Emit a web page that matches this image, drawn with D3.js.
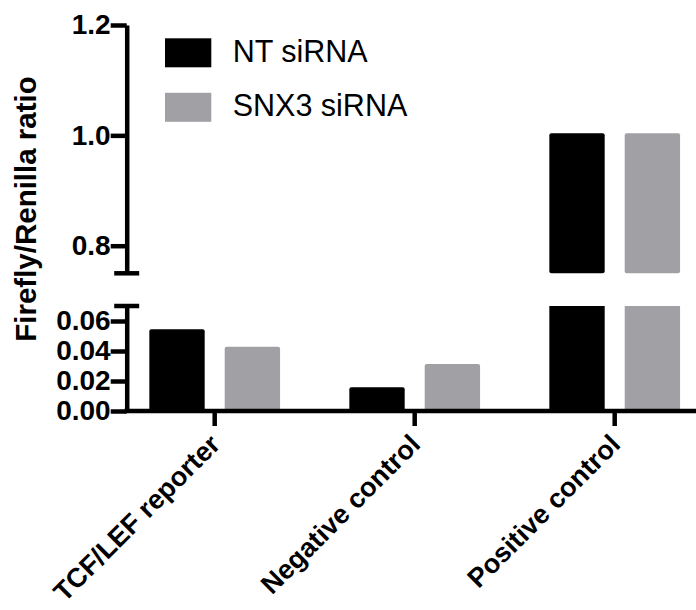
<!DOCTYPE html>
<html>
<head>
<meta charset="utf-8">
<script src="https://cdn.jsdelivr.net/npm/d3@7"></script>
<style>
  body { margin: 0; background: #fff; }
  text { font-family: "Liberation Sans", Arial, sans-serif; }
</style>
</head>
<body>
<script>
// data
var categories = ["TCF/LEF reporter", "Negative control", "Positive control"];
var seriesNames = ["NT siRNA", "SNX3 siRNA"];
var ntValues = [0.0545, 0.0158, 1.0];
var snx3Values = [0.0429, 0.0313, 1.0];
var upperTicks = [0.8, 1.0, 1.2];
var lowerTicks = [0.00, 0.02, 0.04, 0.06];

var colors = ["#000000", "#a1a0a5"];

var w = 696;
var h = 610;
var axisX = 126.7;
var sw = 4.5;

// broken y axis: two segments
var upperDomain = [0.75, 1.2];
var lowerDomain = [0, 0.07];
var yUpper = d3.scaleLinear().domain(upperDomain).range([273.3, 25]);
var yLower = d3.scaleLinear().domain(lowerDomain).range([411, 306]);

var x0 = d3.scaleBand()
    .domain(categories)
    .range([114.7, 714.7])
    .padding(0);

var x1 = d3.scaleBand()
    .domain(seriesNames)
    .range([0, x0.bandwidth()])
    .paddingInner(0.2656)
    .paddingOuter(0.4595);

var svg = d3.select("body")
    .append("svg")
    .attr("width", w)
    .attr("height", h);

// flatten for bars
var rows = [];
categories.forEach(function (c, i) {
    rows.push({cat: c, s: seriesNames[0], v: ntValues[i], color: colors[0]});
    rows.push({cat: c, s: seriesNames[1], v: snx3Values[i], color: colors[1]});
});

// lower segment bars (clipped at top of segment)
svg.append("g").selectAll("rect")
    .data(rows)
    .enter()
    .append("rect")
    .attr("x", d => x0(d.cat) + x1(d.s))
    .attr("width", x1.bandwidth())
    .attr("y", d => yLower(Math.min(d.v, lowerDomain[1])))
    .attr("height", d => yLower(0) - yLower(Math.min(d.v, lowerDomain[1])))
    .attr("rx", d => d.v > lowerDomain[1] ? 0 : 2)
    .attr("fill", d => d.color);

// upper segment bars
svg.append("g").selectAll("rect")
    .data(rows.filter(d => d.v > upperDomain[0]))
    .enter()
    .append("rect")
    .attr("x", d => x0(d.cat) + x1(d.s))
    .attr("width", x1.bandwidth())
    .attr("y", d => yUpper(d.v) - 2)
    .attr("height", d => yUpper(upperDomain[0]) - yUpper(d.v) + 2)
    .attr("rx", 2)
    .attr("fill", d => d.color);

// y axes
function styleAxis(g) {
    g.selectAll("path, line")
        .attr("stroke", "#000")
        .attr("stroke-width", sw);
    g.selectAll("text")
        .attr("font-family", "Liberation Sans, Arial, sans-serif")
        .attr("font-weight", "bold")
        .attr("font-size", 28)
        .attr("fill", "#000");
}

svg.append("g")
    .attr("transform", "translate(" + axisX + ",0)")
    .call(d3.axisLeft(yUpper).tickValues(upperTicks).tickFormat(d3.format(".1f"))
        .tickSize(16).tickSizeOuter(0).tickPadding(0))
    .call(styleAxis);

svg.append("g")
    .attr("transform", "translate(" + axisX + ",0)")
    .call(d3.axisLeft(yLower).tickValues(lowerTicks).tickFormat(d3.format(".2f"))
        .tickSize(16).tickSizeOuter(0).tickPadding(0))
    .call(styleAxis);

// break caps
[yUpper(upperDomain[0]), yLower(lowerDomain[1])].forEach(function (yy) {
    svg.append("line")
        .attr("x1", axisX - 12.5)
        .attr("x2", axisX + 12.5)
        .attr("y1", yy)
        .attr("y2", yy)
        .attr("stroke", "#000")
        .attr("stroke-width", sw);
});

// x axis
var xAxis = svg.append("g")
    .attr("transform", "translate(0," + yLower(0) + ")")
    .call(d3.axisBottom(x0).tickSize(15).tickSizeOuter(0));
xAxis.select(".domain").remove();
xAxis.selectAll("line")
    .attr("stroke", "#000")
    .attr("stroke-width", sw);
xAxis.selectAll("text")
    .attr("y", 0)
    .attr("dy", 0)
    .attr("text-anchor", "end")
    .attr("transform", "translate(7,35) rotate(-45)")
    .attr("font-family", "Liberation Sans, Arial, sans-serif")
    .attr("font-weight", "bold")
    .attr("font-size", 27)
    .attr("fill", "#000");

svg.append("line")
    .attr("x1", axisX - sw / 2)
    .attr("x2", w + 5)
    .attr("y1", yLower(0))
    .attr("y2", yLower(0))
    .attr("stroke", "#000")
    .attr("stroke-width", sw);

// y title
svg.append("text")
    .attr("transform", "translate(36,209) rotate(-90)")
    .attr("text-anchor", "middle")
    .attr("font-weight", "bold")
    .attr("font-size", 29.5)
    .text("Firefly/Renilla ratio");

// legend
var legend = svg.append("g").selectAll("g")
    .data(seriesNames)
    .enter()
    .append("g")
    .attr("transform", (d, i) => "translate(165," + (38.3 + i * 54.5) + ")");

legend.append("rect")
    .attr("width", 46.3)
    .attr("height", 29)
    .attr("fill", (d, i) => colors[i]);

legend.append("text")
    .attr("x", 67.7)
    .attr("y", 23.5)
    .attr("font-size", 30.5)
    .attr("fill", "#000")
    .text(d => d);
</script>
</body>
</html>
